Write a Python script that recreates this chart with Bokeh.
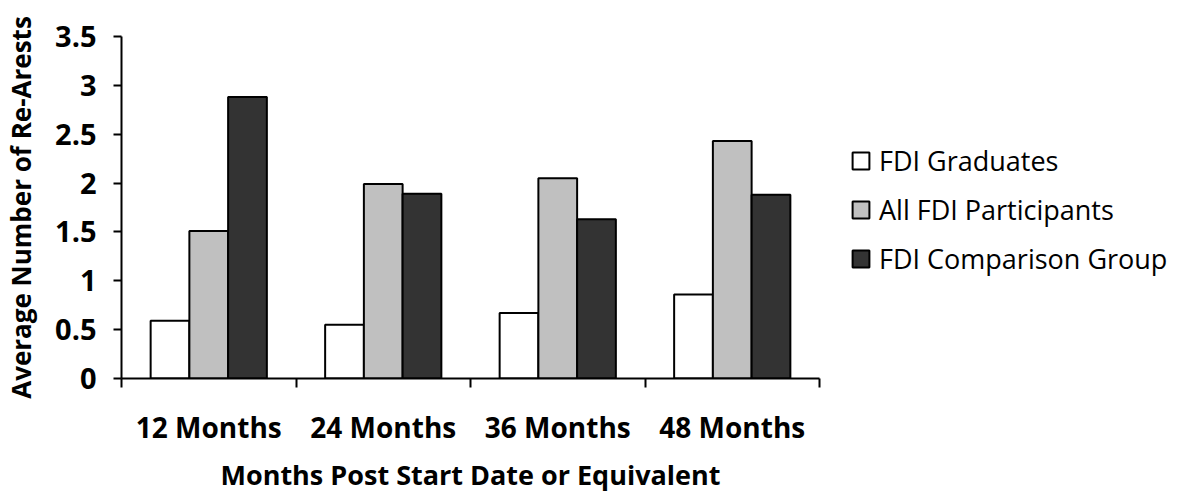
from bokeh.plotting import figure
from bokeh.models import (Range1d, LinearAxis, FixedTicker, CustomJSTickFormatter,
                          NumeralTickFormatter, ColumnDataSource, Legend, LegendItem)
from bokeh.transform import dodge
from bokeh.embed import file_html
from bokeh.resources import INLINE

categories = ["12 Months", "24 Months", "36 Months", "48 Months"]
graduates = [0.59, 0.55, 0.67, 0.86]
participants = [1.51, 1.99, 2.05, 2.43]
comparison = [2.88, 1.89, 1.63, 1.88]
y_ticks = [0, 0.5, 1, 1.5, 2, 2.5, 3, 3.5]
series_names = ["FDI Graduates", "All FDI Participants", "FDI Comparison Group"]
x_title = "Months Post Start Date or Equivalent"
y_title = "Average Number of Re-Arests"

FONT = "Open Sans"
n = len(categories)
centers = [i + 0.5 for i in range(n)]
edges = list(range(n + 1))
source = ColumnDataSource(data=dict(x=centers, g=graduates, a=participants, c=comparison))

p = figure(frame_width=698, frame_height=342, output_backend="svg", toolbar_location=None,
           x_range=Range1d(0, n), y_range=Range1d(0, 3.5),
           x_axis_location=None, y_axis_location=None,
           min_border_left=114, min_border_top=36, min_border_right=352, min_border_bottom=100)
p.outline_line_color = None
p.xgrid.visible = False
p.ygrid.visible = False

bw = 0.222
fills = ["#ffffff", "#c0c0c0", "#333333"]
cols = ["g", "a", "c"]
offs = [-bw, 0, bw]
renderers = []
for col, off, fc in zip(cols, offs, fills):
    r = p.vbar(x=dodge("x", off), top=col, width=bw, bottom=0, source=source,
               fill_color=fc, line_color="black", line_width=2)
    renderers.append(r)

# y axis
yax = LinearAxis(ticker=FixedTicker(ticks=y_ticks), formatter=NumeralTickFormatter(format="0.[0]"))
yax.axis_line_width = 2
yax.major_tick_line_width = 2
yax.major_tick_out = 8
yax.major_tick_in = 0
yax.minor_tick_line_color = None
yax.major_label_text_font = FONT
yax.major_label_text_font_style = "bold"
yax.major_label_text_font_size = "29px"
yax.major_label_text_color = "black"
yax.major_label_standoff = 17
yax.axis_label = y_title
yax.axis_label_text_font = FONT
yax.axis_label_text_font_style = "bold"
yax.axis_label_text_font_size = "26px"
yax.axis_label_text_color = "black"
yax.axis_label_standoff = 13
p.add_layout(yax, "left")

# x axis: labels at category centres, boundary ticks as minor ticks
xl = LinearAxis(ticker=FixedTicker(ticks=centers, minor_ticks=edges),
                formatter=CustomJSTickFormatter(args=dict(cats=categories),
                                                code="return cats[Math.floor(tick)] || '';"))
xl.axis_line_width = 2
xl.major_tick_line_color = None
xl.major_tick_out = 0
xl.major_tick_in = 0
xl.minor_tick_line_width = 2
xl.minor_tick_line_color = "black"
xl.minor_tick_out = 9
xl.minor_tick_in = 0
xl.major_label_text_font = FONT
xl.major_label_text_font_style = "bold"
xl.major_label_text_font_size = "28px"
xl.major_label_text_color = "black"
xl.major_label_standoff = 20
xl.axis_label = x_title
xl.axis_label_text_font = FONT
xl.axis_label_text_font_style = "bold"
xl.axis_label_text_font_size = "27px"
xl.axis_label_text_color = "black"
xl.axis_label_standoff = 7
p.add_layout(xl, "below")

legend = Legend(items=[LegendItem(label=s, renderers=[r]) for s, r in zip(series_names, renderers)],
                location=(31, 101))
legend.label_text_font = FONT
legend.label_text_font_size = "27px"
legend.label_text_color = "black"
legend.glyph_width = 21
legend.glyph_height = 21
legend.label_standoff = 8
legend.label_height = 21
legend.spacing = 12
legend.padding = 0
legend.margin = 0
legend.border_line_color = None
legend.background_fill_alpha = 0
p.add_layout(legend, "right")

open("out.html", "w").write(file_html(p, INLINE))
